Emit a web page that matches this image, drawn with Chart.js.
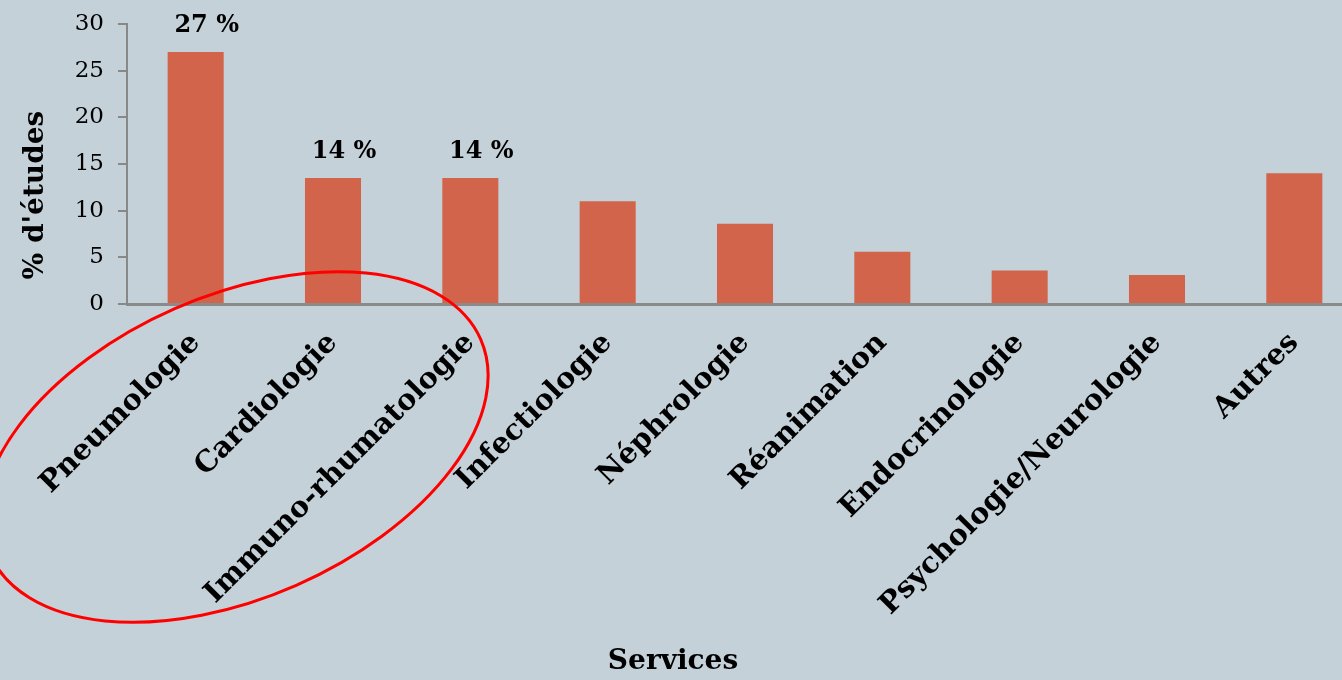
<!DOCTYPE html>
<html lang="fr">
<head>
<meta charset="utf-8">
<script src="https://cdn.jsdelivr.net/npm/chart.js@4"></script>
<style>
  html, body { margin: 0; padding: 0; background: #c5d1d8; overflow: hidden; }
  #wrap { width: 1363px; height: 680px; }
</style>
</head>
<body>
<div id="wrap"><canvas id="barChart" width="1363" height="680"></canvas></div>
<script>
// données
const services = ["Pneumologie", "Cardiologie", "Immuno-rhumatologie", "Infectiologie",
    "Néphrologie", "Réanimation", "Endocrinologie", "Psychologie/Neurologie", "Autres"];
const pourcentages = [27, 13.5, 13.5, 11, 8.6, 5.6, 3.6, 3.1, 14];
const etiquettes = ["27 %", "14 %", "14 %", "", "", "", "", "", ""];
const yTicks = [0, 5, 10, 15, 20, 25, 30];

const serif = "'DejaVu Serif', 'Liberation Serif', serif";

// étiquettes au-dessus des barres
const valueLabels = {
    id: "valueLabels",
    afterDatasetsDraw(chart) {
        const ctx = chart.ctx;
        const meta = chart.getDatasetMeta(0);
        ctx.save();
        ctx.font = "bold 24px " + serif;
        ctx.fillStyle = "#000";
        ctx.textAlign = "center";
        ctx.textBaseline = "alphabetic";
        meta.data.forEach((bar, i) => {
            if (etiquettes[i]) ctx.fillText(etiquettes[i], bar.x + 11, bar.y - 20);
        });
        ctx.restore();
    },
};

// titres d'axes + ellipse rouge
const decorations = {
    id: "decorations",
    afterDraw(chart) {
        const ctx = chart.ctx;
        const x = chart.scales.x;
        const y = chart.scales.y;
        const step = x.getPixelForValue(1) - x.getPixelForValue(0);

        ctx.save();
        ctx.fillStyle = "#000";
        ctx.textAlign = "center";
        ctx.textBaseline = "middle";

        ctx.font = "bold 28px " + serif;
        ctx.save();
        ctx.translate(36, 195);
        ctx.rotate(-Math.PI / 2);
        ctx.fillText("% d'études", 0, 0);
        ctx.restore();

        ctx.font = "bold 28px " + serif;
        ctx.fillText("Services", 673, 662);

        // ellipse autour des 3 premiers services
        ctx.beginPath();
        ctx.strokeStyle = "#ff0000";
        ctx.lineWidth = 3;
        ctx.ellipse(x.getPixelForValue(0) + 0.29 * step, y.bottom + 143,
            1.95 * step, 1.1 * step, -23.7 * Math.PI / 180, 0, Math.PI * 2);
        ctx.stroke();
        ctx.restore();
    },
};

const ctx = document.getElementById("barChart").getContext("2d");
new Chart(ctx, {
    type: "bar",
    data: {
        labels: services,
        datasets: [{
            data: pourcentages,
            backgroundColor: "#d1644b",
            barPercentage: 0.408,
            categoryPercentage: 1,
        }],
    },
    options: {
        responsive: false,
        animation: false,
        layout: { padding: { top: 24, right: 0, left: 0, bottom: 0 } },
        plugins: { legend: { display: false }, tooltip: { enabled: false } },
        scales: {
            x: {
                afterFit: (scale) => { scale.height = 376; },
                grid: { display: false },
                border: { display: true, color: "#8a8a8a", width: 3 },
                ticks: {
                    maxRotation: 45,
                    minRotation: 45,
                    padding: 14,
                    color: "#000",
                    font: { family: serif, size: 29, weight: "bold" },
                },
            },
            y: {
                min: 0,
                max: 30,
                afterFit: (scale) => {
                    scale.width = 127;
                    scale.paddingTop = 12;
                    scale.paddingBottom = 12;
                },
                afterBuildTicks: (scale) => { scale.ticks = yTicks.map((v) => ({ value: v })); },
                grid: { display: true, drawOnChartArea: false, drawTicks: true, tickLength: 9, color: "#888", lineWidth: 2 },
                border: { display: true, color: "#888", width: 2 },
                ticks: {
                    padding: 14,
                    color: "#000",
                    font: { family: serif, size: 23 },
                },
            },
        },
    },
    plugins: [valueLabels, decorations],
});
</script>
</body>
</html>
